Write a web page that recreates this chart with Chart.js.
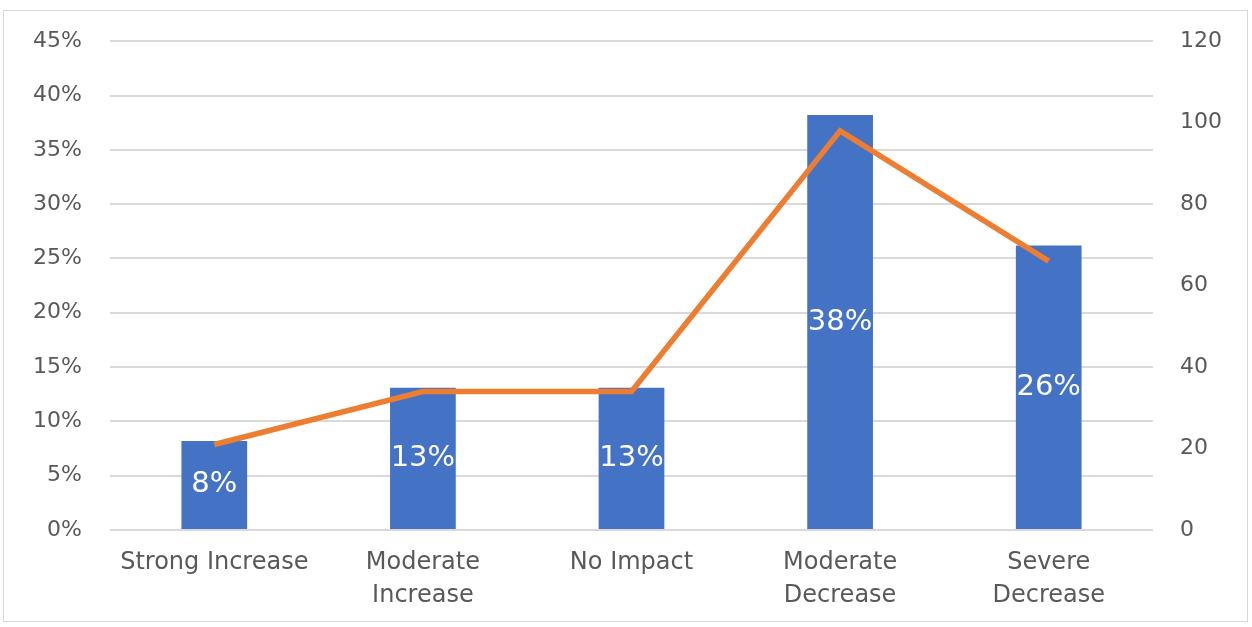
<!DOCTYPE html>
<html>
<head>
<meta charset="utf-8">
<script src="https://cdn.jsdelivr.net/npm/chart.js@4/dist/chart.umd.min.js"></script>
<style>
  body { margin: 0; background: #fff; }
  #wrap { position: absolute; left: 0; top: 0; width: 1252px; height: 627px; }
  #frame { position: absolute; left: 3px; top: 10px; width: 1243px; height: 610px; border: 1.5px solid #d9d9d9; }
</style>
</head>
<body>
<div id="wrap">
  <div id="frame"></div>
  <canvas id="myChart" width="1252" height="627"></canvas>
</div>
<script>
// chart data
var categories = [["Strong Increase"], ["Moderate", "Increase"], ["No Impact"], ["Moderate", "Decrease"], ["Severe", "Decrease"]];
var shareValues = [8.2, 13.1, 13.1, 38.2, 26.2];
var countValues = [21, 34, 34, 98, 66];
var leftTicks = [0, 5, 10, 15, 20, 25, 30, 35, 40, 45];
var rightTicks = [0, 20, 40, 60, 80, 100, 120];

var FONT = "'DejaVu Sans', sans-serif";
var TICK_COLOR = "#595959";

// white % labels in the middle of each bar (bars are dataset 1)
var barLabels = {
    id: 'barLabels',
    afterDatasetsDraw: function (chart) {
        var ctx = chart.ctx;
        var meta = chart.getDatasetMeta(1);
        ctx.save();
        ctx.fillStyle = "#ffffff";
        ctx.font = "29px " + FONT;
        ctx.textAlign = "center";
        ctx.textBaseline = "middle";
        for (var i = 0; i < meta.data.length; i++) {
            var bar = meta.data[i];
            var mid = (bar.y + bar.base) / 2;
            ctx.fillText(Math.round(shareValues[i]) + "%", bar.x, mid);
        }
        ctx.restore();
    }
};

var ctx = document.getElementById('myChart').getContext('2d');

var myChart = new Chart(ctx, {
    type: 'bar',
    data: {
        labels: categories,
        datasets: [{
            type: 'line',
            data: countValues,
            yAxisID: 'yRight',
            borderColor: '#ED7D31',
            borderWidth: 5.5,
            pointRadius: 0,
            tension: 0,
            order: 0
        }, {
            type: 'bar',
            data: shareValues,
            yAxisID: 'yLeft',
            backgroundColor: '#4472C4',
            barPercentage: 0.315,
            categoryPercentage: 1,
            order: 1
        }]
    },
    options: {
        responsive: false,
        animation: false,
        layout: { padding: { top: 38, left: 0, right: 0, bottom: 0 } },
        plugins: {
            legend: { display: false },
            tooltip: { enabled: false }
        },
        scales: {
            x: {
                grid: { display: false, drawTicks: false },
                border: { display: false },
                ticks: {
                    color: TICK_COLOR,
                    font: { family: FONT, size: 24, lineHeight: 1.35 },
                    padding: 17,
                    maxRotation: 0,
                    autoSkip: false
                },
                afterFit: function (scale) { scale.height = 97; }
            },
            yLeft: {
                position: 'left',
                min: 0,
                max: 45,
                afterBuildTicks: function (scale) {
                    scale.ticks = leftTicks.map(function (v) { return { value: v }; });
                },
                grid: { color: '#d9d9d9', lineWidth: 2, drawTicks: false },
                border: { display: false },
                ticks: {
                    color: TICK_COLOR,
                    font: { family: FONT, size: 22 },
                    padding: 28,
                    callback: function (v) { return v + "%"; }
                },
                afterFit: function (scale) { scale.width = 110; }
            },
            yRight: {
                position: 'right',
                min: 0,
                max: 120,
                afterBuildTicks: function (scale) {
                    scale.ticks = rightTicks.map(function (v) { return { value: v }; });
                },
                grid: { display: false, drawTicks: false },
                border: { display: false },
                ticks: {
                    color: TICK_COLOR,
                    font: { family: FONT, size: 22 },
                    padding: 27
                },
                afterFit: function (scale) { scale.width = 99; }
            }
        }
    },
    plugins: [barLabels]
});
</script>
</body>
</html>
